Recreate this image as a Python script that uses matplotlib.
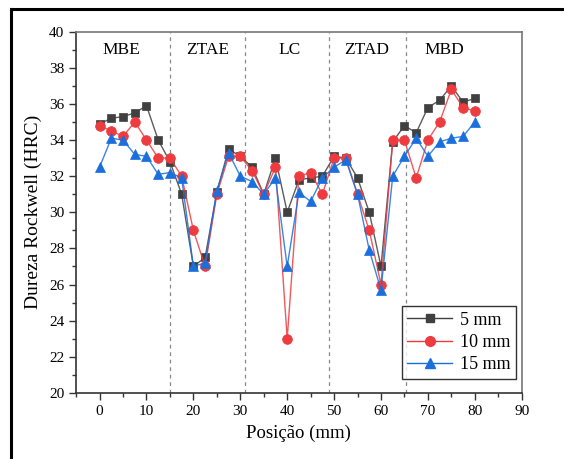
import matplotlib
matplotlib.use('Agg')
import matplotlib.pyplot as plt
from matplotlib.lines import Line2D
from matplotlib.ticker import MultipleLocator

plt.rcParams['font.family'] = ['Liberation Serif', 'DejaVu Serif']

# posicao (mm)
posicao = [0, 2.5, 5, 7.5, 10, 12.5, 15, 17.5, 20, 22.5, 25, 27.5, 30, 32.5, 35, 37.5,
           40, 42.5, 45, 47.5, 50, 52.5, 55, 57.5, 60, 62.5, 65, 67.5, 70, 72.5, 75, 77.5, 80]

# dureza (HRC)
dureza_5mm = [34.9, 35.2, 35.3, 35.5, 35.9, 34.0, 32.8, 31.0, 27.0, 27.5, 31.1, 33.5, 33.1, 32.5, 31.0, 33.0,
              30.0, 31.8, 31.9, 32.0, 33.1, 33.0, 31.9, 30.0, 27.0, 33.9, 34.8, 34.4, 35.8, 36.2, 37.0, 36.1, 36.3]
dureza_10mm = [34.8, 34.5, 34.2, 35.0, 34.0, 33.0, 33.0, 32.0, 29.0, 27.0, 31.0, 33.1, 33.1, 32.3, 31.0, 32.5,
               23.0, 32.0, 32.2, 31.0, 33.0, 33.0, 31.0, 29.0, 26.0, 34.0, 34.0, 31.9, 34.0, 35.0, 36.8, 35.8, 35.6]
dureza_15mm = [32.5, 34.1, 34.0, 33.2, 33.1, 32.1, 32.2, 31.9, 27.0, 27.2, 31.2, 33.3, 32.0, 31.7, 31.0, 31.9,
               27.0, 31.1, 30.6, 31.9, 32.5, 32.9, 31.0, 27.9, 25.7, 32.0, 33.1, 34.1, 33.1, 33.9, 34.1, 34.2, 35.0]

# zonas
limites = [15, 31, 49, 65.4]
zonas = ['MBE', 'ZTAE', 'LC', 'ZTAD', 'MBD']
zonas_x = [4.7, 23, 40.6, 57, 73.5]

fig = plt.figure(figsize=(5.64, 4.59), dpi=100)
ax = fig.add_axes([0.135, 0.144, 0.79, 0.787])

series = [
    (dureza_5mm, '5 mm', 's', '#404040', 6),
    (dureza_10mm, '10 mm', 'o', '#ee3b3f', 7),
    (dureza_15mm, '15 mm', '^', '#1a6fdc', 7.5),
]
for valores, rotulo, marcador, cor, tam in series:
    ax.plot(posicao, valores, color=cor, lw=1.0, alpha=0.85)
    ax.plot(posicao, valores, ls='none', marker=marcador, ms=tam, color=cor,
            markeredgecolor=cor, markeredgewidth=0.5)

for xv in limites:
    ax.axvline(xv, color='#888888', ls=(0, (3, 3)), lw=0.9, zorder=0)

for nome, xv in zip(zonas, zonas_x):
    ax.text(xv, 39.0, nome, ha='center', va='center', fontsize=12.5)

ax.set_xlim(-5, 90)
ax.set_ylim(20, 40)
ax.xaxis.set_major_locator(MultipleLocator(10))
ax.xaxis.set_minor_locator(MultipleLocator(5))
ax.yaxis.set_major_locator(MultipleLocator(2))
ax.yaxis.set_minor_locator(MultipleLocator(1))
ax.tick_params(which='major', direction='out', length=5, width=1, labelsize=11, color='#333333')
ax.tick_params(which='minor', direction='out', length=3, width=1, color='#333333')
ax.set_xticks([0, 10, 20, 30, 40, 50, 60, 70, 80, 90])

for lado in ['left', 'bottom']:
    ax.spines[lado].set_color('#333333')
for lado in ['top', 'right']:
    ax.spines[lado].set_color('#777777')
for s in ax.spines.values():
    s.set_linewidth(1.2)

ax.set_xlabel('Posição (mm)', fontsize=13.5, labelpad=5)
ax.set_ylabel('Dureza Rockwell (HRC)', fontsize=14, labelpad=5)

handles = [Line2D([0], [0], color=cor, lw=1.0, marker=marcador, ms=tam, label=rotulo)
           for _, rotulo, marcador, cor, tam in series]
leg = ax.legend(handles=handles, loc='lower right', bbox_to_anchor=(0.9865, 0.039),
                borderaxespad=0, fontsize=13, frameon=True, fancybox=False, edgecolor='black',
                handlelength=2.5, borderpad=0.3, labelspacing=0.3, handletextpad=0.4)
leg.get_frame().set_linewidth(1.0)

# moldura externa (borda da figura original)
fig.add_artist(Line2D([11 / 564, 11 / 564], [0, 1 - 9 / 459], color='black', lw=2.2,
                      transform=fig.transFigure))
fig.add_artist(Line2D([11 / 564, 1], [1 - 9 / 459, 1 - 9 / 459], color='black', lw=2.2,
                      transform=fig.transFigure))

fig.savefig('out.png', dpi=100)
